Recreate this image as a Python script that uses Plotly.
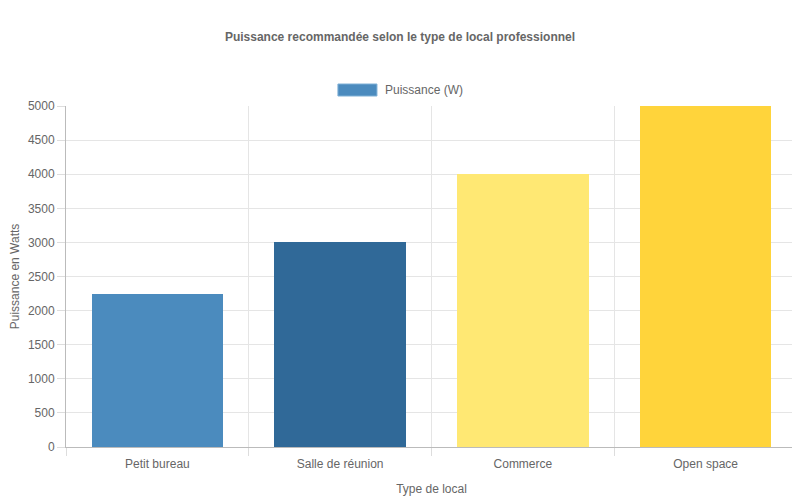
import plotly.graph_objects as go

categories = ["Petit bureau", "Salle de réunion", "Commerce", "Open space"]
puissance = [2250, 3000, 4000, 5000]
colors = ["#4B8BBE", "#306998", "#FFE873", "#FFD43B"]
series_name = "Puissance (W)"

x_pos = list(range(len(categories)))
bounds = [i - 0.5 for i in range(len(categories) + 1)]

fig = go.Figure()
fig.add_trace(go.Bar(
    x=x_pos, y=puissance, name=series_name,
    marker=dict(color=colors, line=dict(width=0)),
    width=0.72, showlegend=False,
))
# invisible trace on the second x axis so the boundary grid shows
fig.add_trace(go.Scatter(x=bounds, y=[0] * len(bounds), xaxis="x2",
                         mode="markers", marker=dict(opacity=0),
                         showlegend=False, hoverinfo="skip"))

font = dict(family="Liberation Sans, Arial, sans-serif", size=12, color="#666")

# chart.js style legend: wide box + label
fig.add_shape(type="rect", xref="paper", yref="paper",
              x0=0.372, x1=0.4254, y0=1.0293, y1=1.0645,
              fillcolor=colors[0], line=dict(color="#7fb0d6", width=1))
fig.add_annotation(text=series_name, xref="paper", yref="paper",
                   x=0.4337, y=1.047, xanchor="left", yanchor="middle",
                   showarrow=False, font=dict(size=12, color="#666"))

fig.update_layout(
    width=800, height=500,
    margin=dict(l=58, r=11, t=98, b=61, autoexpand=False),
    plot_bgcolor="white", paper_bgcolor="white",
    font=font,
    bargap=0,
    title=dict(text="<b>Puissance recommandée selon le type de local professionnel</b>",
               x=0.49, xanchor="center", y=0.942, yanchor="middle",
               font=dict(size=12, color="#666")),
    xaxis=dict(range=[-0.5, 3.5], tickvals=x_pos, ticktext=categories,
               showgrid=False, zeroline=False, showline=True, linecolor="#bbb",
               ticks="outside", ticklen=6, tickcolor="rgba(0,0,0,0)",
               automargin=False,
               title=dict(text="Type de local", standoff=14,
                          font=dict(size=12, color="#666"))),
    xaxis2=dict(range=[-0.5, 3.5], overlaying="x", side="bottom",
                tickvals=bounds, showticklabels=False, showgrid=True,
                gridcolor="#e5e5e5", ticks="outside", ticklen=8, tickcolor="#ddd",
                zeroline=False, automargin=False),
    yaxis=dict(range=[0, 5000], dtick=500, gridcolor="#e5e5e5", zeroline=False,
               showline=True, linecolor="#bbb", ticks="outside", ticklen=8,
               tickcolor="#ddd", automargin=False,
               title=dict(text="Puissance en Watts", standoff=8,
                          font=dict(size=12, color="#666"))),
)

fig.write_html("out.html")
